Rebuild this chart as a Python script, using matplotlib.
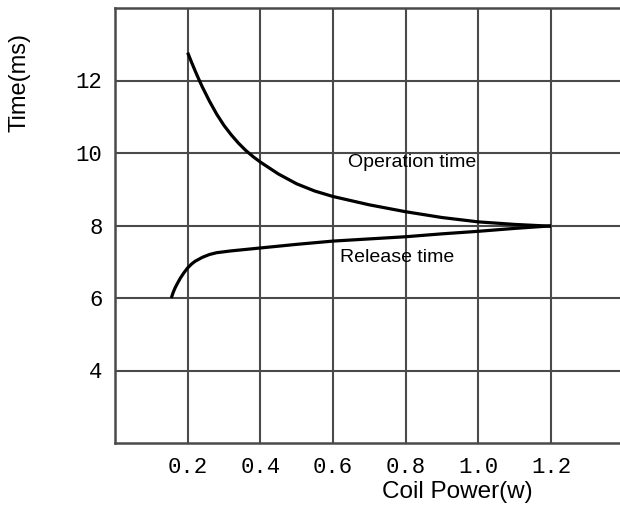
import matplotlib
matplotlib.use("Agg")
import matplotlib.pyplot as plt

# curves
op_power = [0.2, 0.21, 0.22, 0.23, 0.24, 0.26, 0.28, 0.3, 0.32, 0.34, 0.36, 0.38, 0.4,
            0.45, 0.5, 0.55, 0.6, 0.7, 0.8, 0.9, 1.0, 1.1, 1.2]
op_time = [12.77, 12.52, 12.28, 12.05, 11.83, 11.43, 11.07, 10.76, 10.5, 10.27, 10.07, 9.9, 9.75,
           9.42, 9.15, 8.95, 8.8, 8.57, 8.38, 8.22, 8.1, 8.03, 7.98]

rel_power = [0.155, 0.16, 0.165, 0.17, 0.18, 0.19, 0.2, 0.21, 0.22, 0.24, 0.26, 0.28, 0.32,
             0.4, 0.5, 0.6, 0.7, 0.8, 0.9, 1.0, 1.1, 1.2]
rel_time = [6.0, 6.15, 6.27, 6.37, 6.55, 6.7, 6.83, 6.93, 7.01, 7.12, 7.2, 7.25, 7.3,
            7.38, 7.48, 7.57, 7.63, 7.69, 7.77, 7.84, 7.92, 7.99]

x_ticks = [0.2, 0.4, 0.6, 0.8, 1.0, 1.2]
x_labels = ["0.2", "0.4", "0.6", "0.8", "1.0", "1.2"]
y_ticks = [4, 6, 8, 10, 12]
y_labels = ["4", "6", "8", "10", "12"]

grid_col = "#4a4a4a"

fig = plt.figure(figsize=(6.2, 5.18), dpi=100)
ax = fig.add_axes([115 / 620, 75 / 518, 1 - 115 / 620, 435 / 518])

ax.plot(op_power, op_time, color="black", lw=2.3, solid_capstyle="butt", solid_joinstyle="round")
ax.plot(rel_power, rel_time, color="black", lw=2.3, solid_capstyle="butt", solid_joinstyle="round")

ax.set_xlim(0, 1.39)
ax.set_ylim(2, 14)

# grid lines (incl. the one past 1.2 that runs off the right edge)
for gx in x_ticks + [1.4]:
    ax.axvline(gx, color=grid_col, lw=1.5, zorder=0)
for gy in y_ticks:
    ax.axhline(gy, color=grid_col, lw=1.5, zorder=0)

for side in ["left", "top", "bottom"]:
    ax.spines[side].set_color(grid_col)
    ax.spines[side].set_linewidth(1.8)
ax.spines["right"].set_visible(False)

ax.set_xticks(x_ticks)
ax.set_xticklabels(x_labels, fontfamily="Liberation Mono", fontsize=16)
ax.set_yticks(y_ticks)
ax.set_yticklabels(y_labels, fontfamily="Liberation Mono", fontsize=16)
ax.tick_params(axis="x", length=0, pad=10)
ax.tick_params(axis="y", length=0, pad=9)

ax.text(0.64, 9.75, "Operation time", fontfamily="Liberation Sans", fontsize=14,
        va="center", ha="left")
ax.text(0.62, 7.12, "Release time", fontfamily="Liberation Sans", fontsize=14,
        va="center", ha="left")

fig.text(20 / 620, 1 - 83 / 518, "Time(ms)", rotation=90, ha="center", va="center",
         fontfamily="Liberation Sans", fontsize=17)
fig.text(457 / 620, 1 - 492 / 518, "Coil Power(w)", ha="center", va="center",
         fontfamily="Liberation Sans", fontsize=17.5)

fig.savefig("out.png", dpi=100)
